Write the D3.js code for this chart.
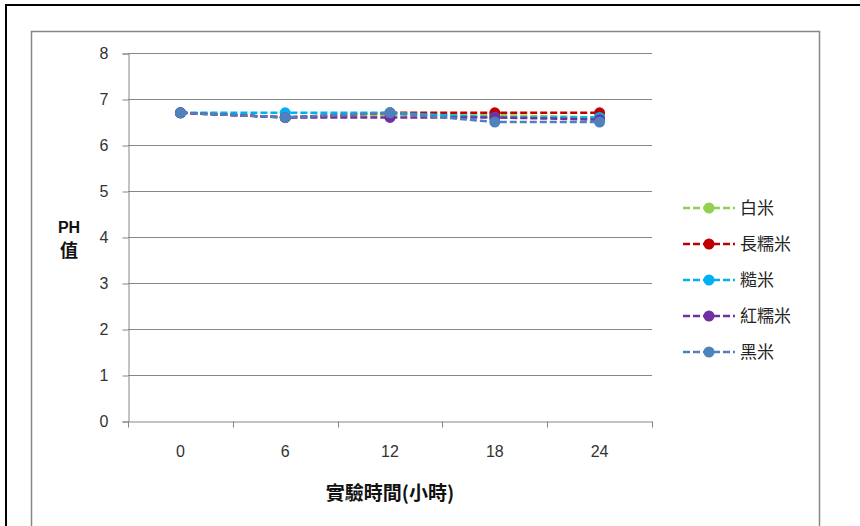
<!DOCTYPE html>
<html>
<head>
<meta charset="utf-8">
<script src="https://cdn.jsdelivr.net/npm/d3@7"></script>
<style>
  html, body { margin: 0; padding: 0; background: #fff; }
  svg { display: block; }
  .tick-label { font-family: "Liberation Sans Narrow", "Liberation Sans", Arial, sans-serif; font-size: 16px; fill: #333; }
  .legend-label { font-family: "Noto Sans CJK TC", sans-serif; font-size: 17px; fill: #222; }
  .axis-title { font-family: "Noto Sans CJK TC", sans-serif; font-size: 16px; font-weight: bold; fill: #111; }
</style>
</head>
<body>
<svg id="chart" width="860" height="526"></svg>
<script>
// Sampling times (hours) and pH readings for each rice type
const hours = ["0", "6", "12", "18", "24"];
const yTicks = [0, 1, 2, 3, 4, 5, 6, 7, 8];
const seriesNames = ["白米", "長糯米", "糙米", "紅糯米", "黑米"];
const seriesColors = ["#92d050", "#c00000", "#00b0f0", "#7030a0", "#4f81bd"];
const whiteRice = [6.7, 6.6, 6.65, 6.65, 6.6];
const longGlutinous = [6.7, 6.6, 6.7, 6.7, 6.7];
const brownRice = [6.7, 6.7, 6.7, 6.6, 6.6];
const redGlutinous = [6.7, 6.6, 6.6, 6.6, 6.55];
const blackRice = [6.7, 6.6, 6.7, 6.5, 6.5];
const seriesValues = [whiteRice, longGlutinous, brownRice, redGlutinous, blackRice];

const svg = d3.select("#chart");

// Outer frame and inner chart area frame
svg.append("rect").attr("x", 6).attr("y", 5).attr("width", 870).attr("height", 540)
  .attr("fill", "none").attr("stroke", "#000").attr("stroke-width", 2);
svg.append("rect").attr("x", 31.5).attr("y", 31.5).attr("width", 788).attr("height", 520)
  .attr("fill", "none").attr("stroke", "#868686").attr("stroke-width", 1.5);

const plot = { left: 128, right: 652, top: 53, bottom: 421 };

const x = d3.scaleBand().domain(hours).range([plot.left, plot.right]);
const y = d3.scaleLinear().domain([0, 8]).range([plot.bottom, plot.top]);

// Horizontal gridlines
svg.append("g").selectAll("line").data(yTicks.filter(d => d > 0)).join("line")
  .attr("x1", plot.left).attr("x2", plot.right)
  .attr("y1", d => Math.round(y(d)) + 0.5).attr("y2", d => Math.round(y(d)) + 0.5)
  .attr("stroke", "#868686").attr("stroke-width", 1);

// Y axis
const yAxis = svg.append("g").attr("transform", `translate(${plot.left + 0.5},0.5)`)
  .call(d3.axisLeft(y).tickValues(yTicks).tickSize(6).tickPadding(14));
yAxis.select(".domain").attr("stroke", "#868686");
yAxis.selectAll(".tick line").attr("stroke", "#868686");
yAxis.selectAll(".tick text").attr("class", "tick-label");

// X axis with ticks on band boundaries
const xAxis = svg.append("g").attr("transform", `translate(0,${plot.bottom + 0.5})`)
  .call(d3.axisBottom(x).tickSize(0).tickPadding(24));
xAxis.select(".domain").attr("stroke", "#868686");
xAxis.selectAll(".tick text").attr("class", "tick-label");
const bounds = hours.map(h => x(h)).concat([x(hours[hours.length - 1]) + x.bandwidth()]);
xAxis.selectAll(".bound").data(bounds).join("line").attr("class", "bound")
  .attr("x1", d => Math.round(d) + 0.5).attr("x2", d => Math.round(d) + 0.5)
  .attr("y1", 0).attr("y2", 6).attr("stroke", "#868686");

// Series lines and markers
const cx = h => x(h) + x.bandwidth() / 2;
const line = d3.line().x((d, i) => cx(hours[i])).y(d => y(d));
seriesValues.forEach((vals, s) => {
  const g = svg.append("g");
  g.append("path").datum(vals).attr("d", line)
    .attr("fill", "none").attr("stroke", seriesColors[s])
    .attr("stroke-width", 2.5).attr("stroke-dasharray", "7,3");
  g.selectAll("circle").data(vals).join("circle")
    .attr("cx", (d, i) => cx(hours[i])).attr("cy", d => y(d)).attr("r", 5.5)
    .attr("fill", seriesColors[s]);
});

// Legend
const legend = svg.append("g");
seriesNames.forEach((name, i) => {
  const ly = 208 + i * 36;
  legend.append("line").attr("x1", 683).attr("x2", 735).attr("y1", ly).attr("y2", ly)
    .attr("stroke", seriesColors[i]).attr("stroke-width", 2.5).attr("stroke-dasharray", "7,3");
  legend.append("circle").attr("cx", 709).attr("cy", ly).attr("r", 5.5).attr("fill", seriesColors[i]);
  legend.append("text").attr("class", "legend-label").attr("x", 740).attr("y", ly + 6).text(name);
});

// Axis titles
svg.append("text").attr("class", "axis-title").attr("x", 390).attr("y", 500)
  .attr("text-anchor", "middle").style("font-size", "19px").text("實驗時間(小時)");
svg.append("text").attr("class", "axis-title").attr("x", 69).attr("y", 233)
  .attr("text-anchor", "middle").style("font-family", "Liberation Sans, Arial, sans-serif").text("PH");
svg.append("text").attr("class", "axis-title").attr("x", 69).attr("y", 257)
  .attr("text-anchor", "middle").style("font-size", "18px").text("值");
</script>
</body>
</html>
